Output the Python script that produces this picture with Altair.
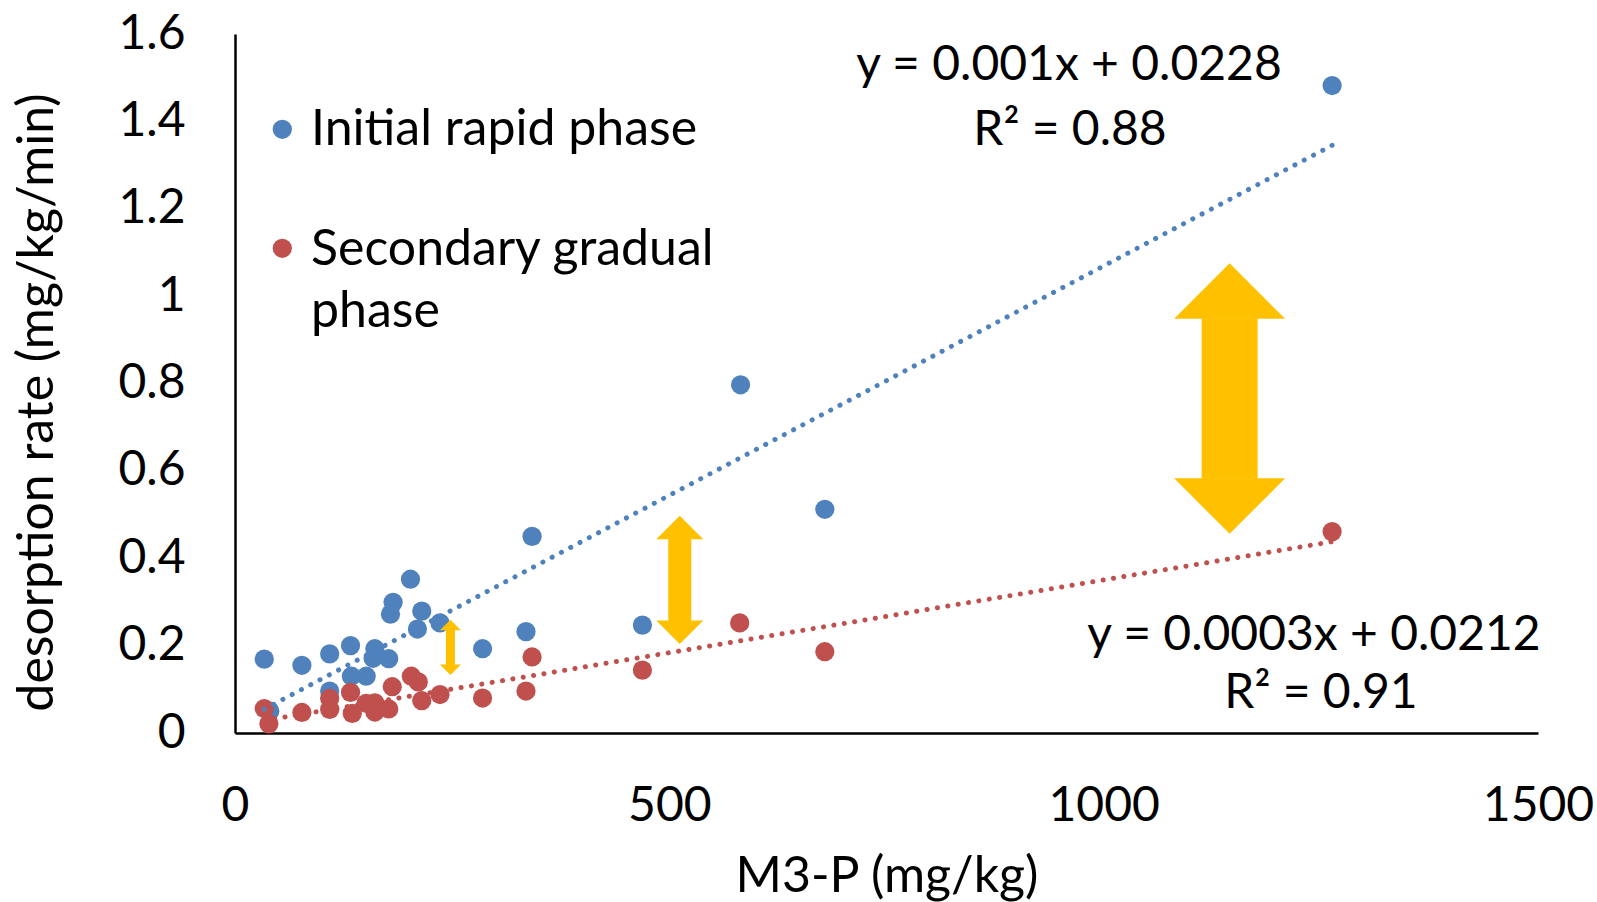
import altair as alt
import pandas as pd

# ---------------- data ----------------
SERIES = ["Initial rapid phase", "Secondary gradual phase"]
COLORS = ["#4F81BD", "#C0504D"]
YELLOW = "#FFC000"

blue_x = [33.7, 40, 77, 109, 109, 133, 134, 151, 161, 159, 177, 182, 179, 202, 215, 210, 236, 285, 335, 342, 469, 582, 679, 1263]
blue_y = [0.169, 0.050, 0.155, 0.181, 0.096, 0.200, 0.130, 0.130, 0.193, 0.171, 0.170, 0.299, 0.272, 0.352, 0.279, 0.238, 0.252, 0.193, 0.232, 0.450, 0.247, 0.797, 0.512, 1.482]

red_x = [33.7, 39, 77, 109, 109, 133, 135, 151, 161, 161, 177, 181, 203, 211, 215, 236, 285, 335, 342, 469, 581, 679, 1263]
red_y = [0.056, 0.021, 0.047, 0.054, 0.079, 0.093, 0.045, 0.068, 0.069, 0.048, 0.055, 0.106, 0.130, 0.117, 0.074, 0.088, 0.080, 0.096, 0.174, 0.144, 0.252, 0.186, 0.461]

# trendline coefficients (as drawn)
trend_slope = [0.00105, 0.000333]
trend_intercept = [0.019, 0.0173]

eq_blue = ["y = 0.001x + 0.0228", "R² = 0.88"]
eq_red = ["y = 0.0003x + 0.0212", "R² = 0.91"]

# double arrows (x, top value, bottom value)
arrow_x = [248, 512, 1145]
arrow_top = [0.259, 0.497, 1.075]
arrow_bottom = [0.133, 0.204, 0.456]

x_ticks = [0, 500, 1000, 1500]
y_ticks = [0, 0.2, 0.4, 0.6, 0.8, 1.0, 1.2, 1.4, 1.6]

# ---------------- styles ----------------
FONT = "Lato"
FS = 48        # numbers
FS_WORDS = 50  # words
MARK_SIZE = 370
ARROW_HEAD_W = [21, 47, 111]
ARROW_SHAFT_W = [9, 23, 56]
PLOT_W, PLOT_H = 1303, 699

X_SCALE = alt.Scale(domain=[0, 1500], nice=False, zero=False)
Y_SCALE = alt.Scale(domain=[0, 1.6], nice=False, zero=False)

x_axis = alt.Axis(
    values=x_ticks, format="d", title="M3-P (mg/kg)", grid=False,
    ticks=False, tickSize=0, domainColor="#000000", domainWidth=2.5,
    labelFont=FONT, labelFontSize=FS, labelColor="#000000",
    labelPadding=87, labelBaseline="alphabetic", labelFlush=False, labelOverlap=False,
    titleFont=FONT, titleFontSize=FS_WORDS, titleFontWeight="normal", titleColor="#000000",
    titleBaseline="alphabetic", titleX=PLOT_W / 2, titleY=158.7, titleAlign="center",
)
y_axis = alt.Axis(
    values=y_ticks, format="~g", title="desorption rate (mg/kg/min)", grid=False,
    ticks=False, tickSize=0, domainColor="#000000", domainWidth=2.5,
    labelFont=FONT, labelFontSize=FS, labelColor="#000000",
    labelPadding=50, labelFlush=False, labelOverlap=False,
    titleFont=FONT, titleFontSize=FS_WORDS, titleFontWeight="normal", titleColor="#000000",
    titleAngle=270, titleBaseline="alphabetic", titleAlign="center",
    titleX=-183, titleY=368,
)

X = alt.X("x:Q", scale=X_SCALE, axis=x_axis)
Y = alt.Y("y:Q", scale=Y_SCALE, axis=y_axis)

layers = []

# scatter points
for name, xs, ys, col in [(SERIES[0], blue_x, blue_y, COLORS[0]), (SERIES[1], red_x, red_y, COLORS[1])]:
    df = pd.DataFrame({"x": xs, "y": ys, "series": name})
    layers.append(
        alt.Chart(df).mark_circle(size=MARK_SIZE, opacity=1, color=col).encode(x=X, y=Y)
    )

# trendlines
for i, (xs, col) in enumerate([(blue_x, COLORS[0]), (red_x, COLORS[1])]):
    df = pd.DataFrame({"x": [min(xs), max(xs)], "slope": trend_slope[i], "intercept": trend_intercept[i]})
    layers.append(
        alt.Chart(df)
        .transform_calculate(y="datum.slope * datum.x + datum.intercept")
        .mark_line(color=col, strokeWidth=5, strokeDash=[0.1, 10.4], strokeCap="round")
        .encode(x=X, y=Y)
    )

# yellow double arrows
for i in range(len(arrow_x)):
    hw = ARROW_HEAD_W[i]
    df = pd.DataFrame({"x": [arrow_x[i]], "y": [arrow_top[i]], "y2": [arrow_bottom[i]]})
    base = alt.Chart(df)
    layers.append(
        base.mark_rule(color=YELLOW, strokeWidth=ARROW_SHAFT_W[i], strokeCap="butt",
                       yOffset=hw / 2 - 0.5, y2Offset=-(hw / 2 - 0.5))
        .encode(x=X, y=Y, y2="y2:Q")
    )
    layers.append(
        base.mark_point(shape="M 0 0 L 1 1 L -1 1 Z", size=hw * hw, filled=True,
                        opacity=1, color=YELLOW, strokeWidth=0)
        .encode(x=X, y=Y)
    )
    layers.append(
        base.mark_point(shape="M 0 0 L 1 -1 L -1 -1 Z", size=hw * hw, filled=True,
                        opacity=1, color=YELLOW, strokeWidth=0)
        .encode(x=X, y=alt.Y("y2:Q", scale=Y_SCALE, axis=y_axis))
    )

# text helper
def text_layer(txt, px, py, align="center", size=FS):
    return (
        alt.Chart(pd.DataFrame({"t": [txt]}))
        .mark_text(font=FONT, fontSize=size, color="#000000", align=align, baseline="alphabetic")
        .encode(text="t:N", x=alt.value(px), y=alt.value(py))
    )

# equations
layers.append(text_layer(eq_blue[0], 834, 46))
layers.append(text_layer(eq_blue[1], 835, 111))
layers.append(text_layer(eq_red[0], 1079, 616))
layers.append(text_layer(eq_red[1], 1086, 674))

# legend
for py, col in [(95.3, COLORS[0]), (214.3, COLORS[1])]:
    layers.append(
        alt.Chart(pd.DataFrame({"s": [0]}))
        .mark_circle(size=MARK_SIZE, opacity=1, color=col)
        .encode(x=alt.value(47.3), y=alt.value(py))
    )
layers.append(text_layer(SERIES[0], 76, 111, align="left", size=FS_WORDS))
layers.append(text_layer("Secondary gradual", 76, 231, align="left", size=FS_WORDS))
layers.append(text_layer("phase", 76, 292.7, align="left", size=FS_WORDS))

chart = (
    alt.layer(*layers)
    .properties(
        width=PLOT_W, height=PLOT_H,
        autosize=alt.AutoSizeParams(type="none"),
        padding={"left": 235, "top": 34, "right": 59, "bottom": 169},
        background="white",
    )
    .configure_view(strokeWidth=0)
)

chart.save("out.html", embed_options={"renderer": "svg", "actions": False})
